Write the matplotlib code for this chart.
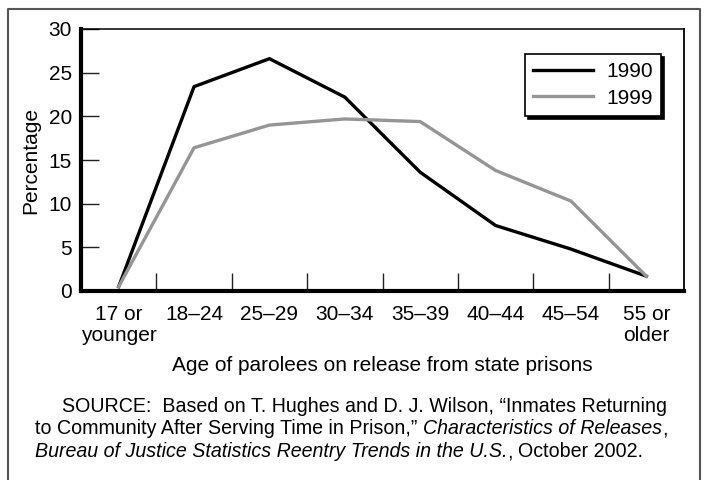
import matplotlib
matplotlib.use("Agg")
import matplotlib.pyplot as plt
from matplotlib.lines import Line2D

plt.rcParams['font.family'] = ['Liberation Sans', 'DejaVu Sans']

# Data
age_groups = ["17 or\nyounger", "18–24", "25–29", "30–34", "35–39", "40–44", "45–54", "55 or\nolder"]
pct_1990 = [0.5, 23.4, 26.6, 22.2, 13.6, 7.5, 4.8, 1.7]
pct_1999 = [0.5, 16.4, 19.0, 19.7, 19.4, 13.8, 10.3, 1.7]
series_labels = ["1990", "1999"]
y_ticks = [0, 5, 10, 15, 20, 25, 30]

W, H = 704, 480
FS = 15
fig = plt.figure(figsize=(W / 100, H / 100), dpi=100)
ax = fig.add_axes([81 / W, 1 - 291 / H, 603 / W, 262 / H])

n = len(age_groups)
centers = [i + 0.5 for i in range(n)]
ax.plot(centers, pct_1990, color="black", lw=2.4, label=series_labels[0])
ax.plot(centers, pct_1999, color="#959595", lw=2.4, label=series_labels[1])

ax.set_xlim(0, n)
ax.set_ylim(0, 30)

# boundary ticks pointing in, labels on minor ticks at centers
ax.set_xticks(range(1, n))
ax.set_xticklabels([])
ax.set_xticks(centers, minor=True)
ax.set_xticklabels(age_groups, minor=True, fontsize=FS, linespacing=1.12)
ax.tick_params(axis="x", which="major", direction="in", length=13, width=1.0, color="#222222")
ax.tick_params(axis="x", which="minor", length=0, pad=10)

ax.set_yticks(y_ticks)
ax.set_yticklabels([str(v) for v in y_ticks], fontsize=FS)
ax.tick_params(axis="y", direction="in", length=13, width=1.0, pad=6.5, color="#222222")

ax.spines["left"].set_linewidth(3.0)
ax.spines["bottom"].set_linewidth(3.0)
ax.spines["top"].set_linewidth(1.1)
ax.spines["right"].set_linewidth(1.3)
for s in ax.spines.values():
    s.set_color("black")

ax.set_ylabel("Percentage", fontsize=FS, labelpad=6)
ax.set_xlabel("Age of parolees on release from state prisons", fontsize=FS, labelpad=8)

leg = ax.legend(loc="upper right", bbox_to_anchor=(0.962, 0.905), borderaxespad=0,
                fontsize=FS, handlelength=2.85, handletextpad=0.65, labelspacing=0.35,
                fancybox=False, edgecolor="black", framealpha=1,
                shadow={"color": "black", "alpha": 1}, borderpad=0.4)
leg.get_frame().set_linewidth(1.2)

# outer border (no bottom edge visible)
bx0, bx1, by0 = 8 / W, 700 / W, 1 - 9 / H
fig.add_artist(Line2D([bx0, bx0, bx1, bx1], [0, by0, by0, 0], color="#555555", lw=1.5,
                      transform=fig.transFigure))

# source caption with italic pieces
renderer = fig.canvas.get_renderer()
cap_size = 14.1


def text_width(s, style):
    t = fig.text(0, 0, s, fontsize=cap_size, style=style)
    w = t.get_window_extent(renderer).width
    t.remove()
    return w


space_w = text_width("x x", "normal") - text_width("xx", "normal")


def draw_line(x_px, y_px, pieces):
    for s, style in pieces:
        if s == " ":
            x_px += space_w
            continue
        t = fig.text(x_px / W, 1 - y_px / H, s, fontsize=cap_size, style=style, va="baseline")
        x_px += t.get_window_extent(renderer).width


draw_line(62, 412, [("SOURCE:  Based on T. Hughes and D. J. Wilson, “Inmates Returning", "normal")])
draw_line(35, 434.5, [("to Community After Serving Time in Prison,”", "normal"), (" ", None),
                      ("Characteristics of Releases", "italic"), (",", "normal")])
draw_line(35, 457, [("Bureau of Justice Statistics Reentry Trends in the U.S.", "italic"), (",", "normal"),
                    (" ", None), ("October 2002.", "normal")])

fig.savefig("out.png", dpi=100)
